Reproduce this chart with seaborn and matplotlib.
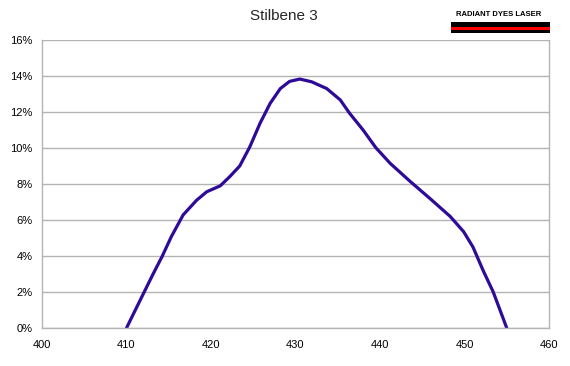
import matplotlib
matplotlib.use("Agg")
import matplotlib.pyplot as plt
from matplotlib.patches import Rectangle
from matplotlib.ticker import FuncFormatter
import seaborn as sns
import pandas as pd

wavelength = [410.0, 411.1, 412.2, 413.2, 414.2, 415.3, 416.7, 418.3, 419.5, 421.1,
              422.2, 423.4, 424.6, 425.8, 427.0, 428.2, 429.3, 430.5, 431.9, 433.7,
              435.3, 436.4, 438.0, 439.5, 441.2, 443.6, 445.9, 448.3, 449.9, 451.0,
              452.2, 453.4, 455.0]
efficiency = [0.0, 1.05, 2.1, 3.05, 3.96, 5.07, 6.28, 7.1, 7.57, 7.9,
              8.4, 9.0, 10.07, 11.37, 12.48, 13.3, 13.7, 13.83, 13.68, 13.3,
              12.67, 11.93, 11.0, 10.02, 9.15, 8.13, 7.2, 6.2, 5.35, 4.5,
              3.2, 2.0, 0.0]
x_ticks = [400, 410, 420, 430, 440, 450, 460]
y_ticks = [0, 2, 4, 6, 8, 10, 12, 14, 16]

df = pd.DataFrame({"wavelength": wavelength, "efficiency": efficiency})

sns.set_style("white")
plt.rcParams['font.family'] = ['Liberation Sans', 'DejaVu Sans']

fig = plt.figure(figsize=(5.7, 3.66), dpi=100)
ax = fig.add_axes([42/570, 38/366, (549-42)/570, (328-40)/366])

sns.lineplot(data=df, x="wavelength", y="efficiency", ax=ax,
             color="#2E0A99", linewidth=2.3, sort=False)

ax.set_xlim(400, 460)
ax.set_ylim(0, 16)
ax.set_xticks(x_ticks)
ax.set_yticks(y_ticks)
ax.yaxis.set_major_formatter(FuncFormatter(lambda v, p: f"{int(v)}%"))
ax.set_xlabel("")
ax.set_ylabel("")
ax.grid(axis="y", color="#B4B4B4", linewidth=1.0)
ax.grid(axis="x", visible=False)
ax.set_axisbelow(True)
for side in ["left", "bottom", "right"]:
    ax.spines[side].set_color("#B4B4B4")
    ax.spines[side].set_linewidth(1.0)
ax.spines["top"].set_visible(False)
ax.tick_params(axis="both", which="both", direction="out", length=4,
               color="#B4B4B4", labelsize=8, labelcolor="black", pad=3)
ax.tick_params(axis="x", pad=5)

fig.text(284/570, 1 - 16/366, "Stilbene 3", ha="center", va="center", fontsize=11)

# logo
fig.text(499/570, 1 - 15/366, "RADIANT DYES LASER", ha="center", va="center",
         fontsize=5.5, fontweight="bold", color="black")
fig.patches.append(Rectangle((451/570, 1 - 33/366), 99/570, 11/366,
                             transform=fig.transFigure, facecolor="black",
                             edgecolor="none"))
fig.patches.append(Rectangle((451/570, 1 - 29.5/366), 99/570, 2.2/366,
                             transform=fig.transFigure, facecolor="#FF0000",
                             edgecolor="none"))

fig.savefig("out.png", dpi=100)
